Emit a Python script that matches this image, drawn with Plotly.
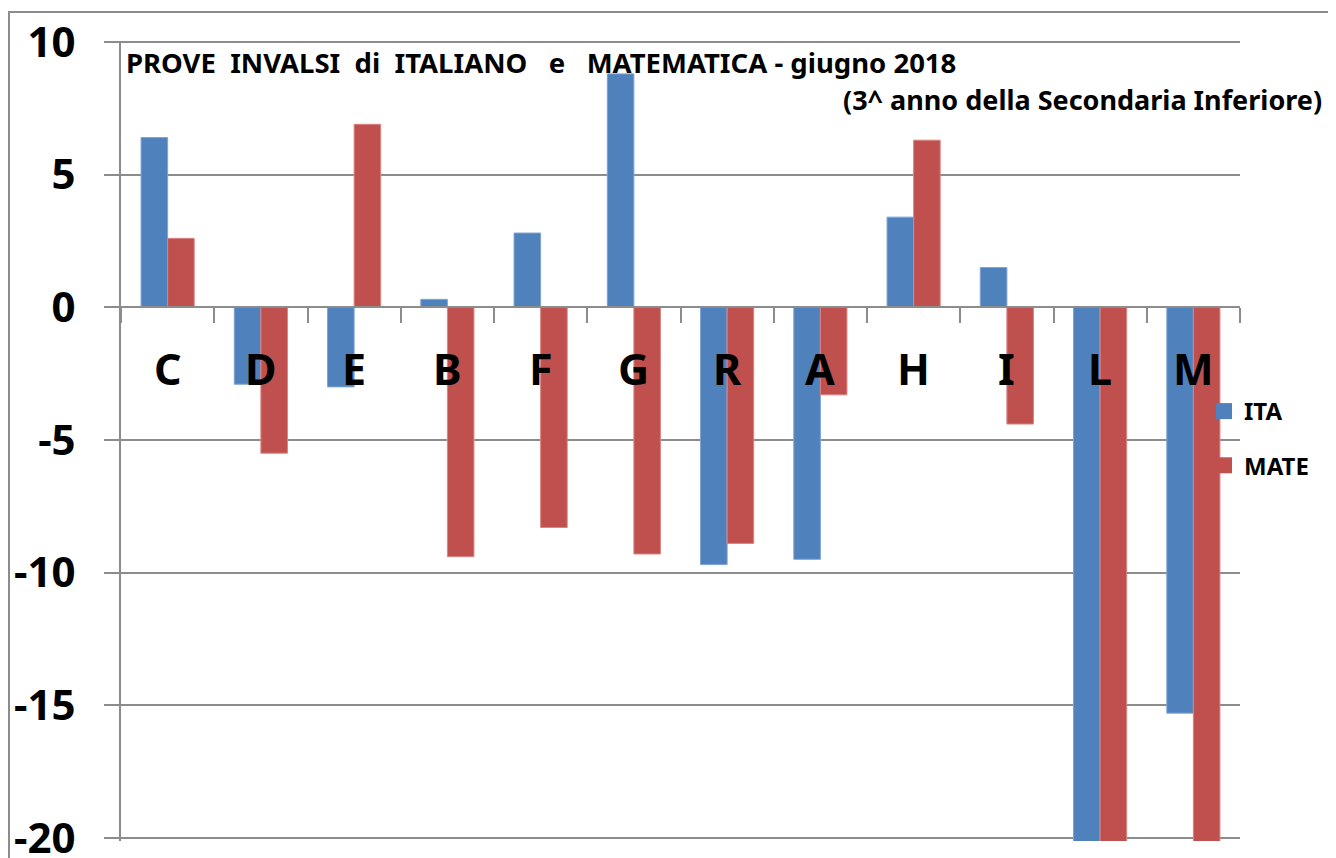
import plotly.graph_objects as go

categories = ["C", "D", "E", "B", "F", "G", "R", "A", "H", "I", "L", "M"]
ita = [6.4, -2.9, -3.0, 0.3, 2.8, 8.8, -9.7, -9.5, 3.4, 1.5, -21.0, -15.3]
mate = [2.6, -5.5, 6.9, -9.4, -8.3, -9.3, -8.9, -3.3, 6.3, -4.4, -21.0, -21.0]
y_ticks = [10, 5, 0, -5, -10, -15, -20]
y_range = [-20.12, 10.04]

title_line1 = "PROVE&nbsp;&nbsp;INVALSI&nbsp;&nbsp;di&nbsp;&nbsp;ITALIANO&nbsp;&nbsp;&nbsp;e&nbsp;&nbsp;&nbsp;MATEMATICA - giugno 2018"
title_line2 = "(3^ anno della Secondaria Inferiore)"

FONT = "Noto Sans"
BLUE = "#4F81BD"
RED = "#C0504D"
GRID = "#8c8c8c"

# page body has an 8px margin: figure coords = screen coords - 8
OFF = 8
W, H = 1328, 850
ML, MR, MT, MB = 113, 96, 33, 17
PW = W - ML - MR
PH = H - MT - MB


def px(xs):
    return (xs - OFF - ML) / PW


def py(ys):
    return 1 - (ys - OFF - MT) / PH


fig = go.Figure()
fig.add_trace(go.Bar(name="ITA", x=categories, y=ita, showlegend=False,
                     marker=dict(color=BLUE, line=dict(color="#7fa3d1", width=1))))
fig.add_trace(go.Bar(name="MATE", x=categories, y=mate, showlegend=False,
                     marker=dict(color=RED, line=dict(color="#d98482", width=1))))
# legend entries (square swatches)
fig.add_trace(go.Scatter(name="<b>ITA</b>", x=[None], y=[None], mode="markers", legendgroup="a",
                         marker=dict(symbol="square", size=17, color=BLUE)))
fig.add_trace(go.Scatter(name="<b>MATE</b>", x=[None], y=[None], mode="markers", legendgroup="b",
                         marker=dict(symbol="square", size=17, color=RED)))

zero_pos = (0 - y_range[0]) / (y_range[1] - y_range[0])

annotations = []
for c in categories:
    annotations.append(dict(x=c, y=-2.3, xref="x", yref="y", text="<b>%s</b>" % c,
                            showarrow=False, font=dict(family=FONT, size=43, color="black"),
                            xanchor="center", yanchor="middle"))
annotations.append(dict(x=px(124), y=py(62), xref="paper", yref="paper",
                        text="<b>" + title_line1 + "</b>", showarrow=False, xanchor="left", yanchor="middle",
                        font=dict(family=FONT, size=27.5, color="black")))
annotations.append(dict(x=px(1324), y=py(100), xref="paper", yref="paper",
                        text="<b>" + title_line2 + "</b>", showarrow=False, xanchor="right", yanchor="middle",
                        font=dict(family=FONT, size=27, color="black")))

fig.update_layout(
    width=W, height=H,
    margin=dict(l=ML, r=MR, t=MT, b=MB, autoexpand=False),
    plot_bgcolor="white", paper_bgcolor="white",
    barmode="group", bargap=0.43, bargroupgap=0,
    showlegend=True,
    legend=dict(x=px(1204), y=py(389), xanchor="left", yanchor="top",
                bgcolor="rgba(0,0,0,0)", font=dict(family=FONT, size=24, color="black"),
                tracegroupgap=20, itemwidth=30, itemsizing="trace"),
    xaxis=dict(type="category", anchor="free", position=zero_pos, showline=True, linecolor=GRID, linewidth=2,
               ticks="outside", tickson="boundaries", ticklen=15, tickwidth=2, tickcolor=GRID,
               showticklabels=False, showgrid=False, zeroline=False, automargin=False),
    yaxis=dict(range=y_range, tickvals=y_ticks, ticktext=["<b>%d</b>" % v for v in y_ticks],
               showline=True, linecolor=GRID, linewidth=2, ticks="outside", ticklen=15, tickwidth=2,
               tickcolor=GRID, showgrid=True, gridcolor=GRID, gridwidth=2, zeroline=False,
               tickfont=dict(family=FONT, size=42, color="black"), ticklabelstandoff=20,
               ticklabeloverflow="allow", automargin=False),
    annotations=annotations,
    shapes=[dict(type="rect", xref="paper", yref="paper", x0=px(9), x1=1.3,
                 y0=-0.2, y1=py(12), line=dict(color=GRID, width=2), layer="below")],
    font=dict(family=FONT),
)

fig.write_html("out.html")
